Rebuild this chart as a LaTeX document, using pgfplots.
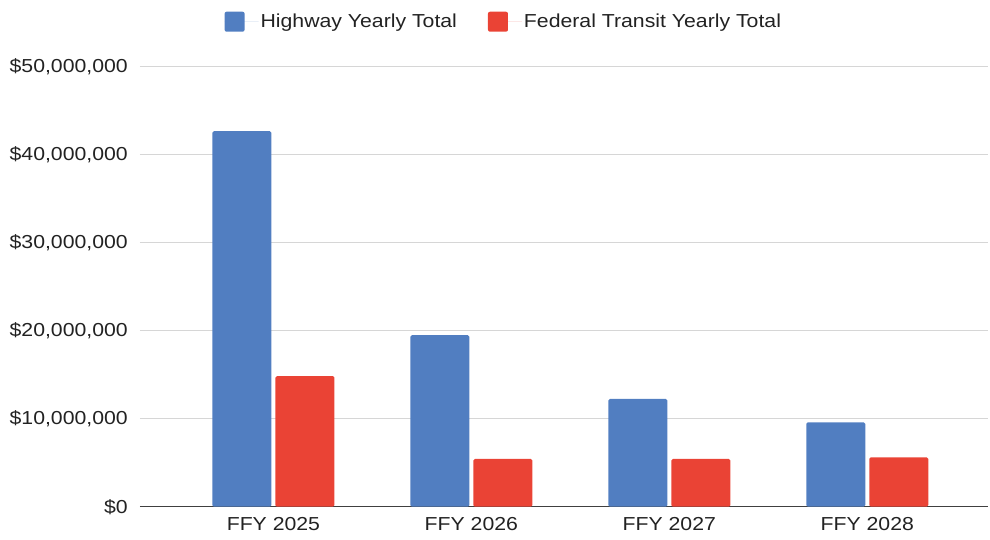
\documentclass[border=0pt]{standalone}
\usepackage{pgfplots}
\pgfplotsset{compat=1.18}
\usepackage{fontspec}
\setmainfont{Liberation Sans}[FakeStretch=1.13]
\definecolor{hwblue}{RGB}{81,126,193}
\definecolor{trred}{RGB}{234,67,53}
\definecolor{gridgray}{RGB}{214,214,214}
\definecolor{txt}{RGB}{34,34,34}
\begin{document}
\begin{tikzpicture}
\begin{axis}[
  scale only axis,
  width=848bp, height=439.7bp,
  ybar=4bp, bar width=59bp,
  xmin=-0.674, xmax=3.61,
  ymin=0, ymax=50000000,
  xtick=data,
  xticklabels={FFY 2025,FFY 2026,FFY 2027,FFY 2028},
  ytick={0,10000000,20000000,30000000,40000000,50000000},
  yticklabels={\$0,{\$10,000,000},{\$20,000,000},{\$30,000,000},{\$40,000,000},{\$50,000,000}},
  /pgf/number format/assume math mode=true,
  scaled y ticks=false,
  major tick length=0pt,
  ymajorgrids, grid style={draw=gridgray, line width=1bp},
  axis x line*=bottom, axis y line*=left,
  x axis line style={draw=black!75, line width=1.2bp, -},
  y axis line style={draw=none},
  ticklabel style={font=\fontsize{18.8bp}{22bp}\selectfont, text=txt},
  yticklabel style={inner sep=0pt, xshift=-12bp},
  xticklabel style={inner sep=0pt, yshift=-10bp},
  legend style={draw=none, fill=none, font=\fontsize{18.8bp}{22bp}\selectfont, text=txt,
    at={(0.429,1.103)}, anchor=center, legend columns=2,
    /tikz/every even column/.append style={column sep=29bp}},
  legend image code/.code={\fill[#1, draw=none, rounded corners=2bp] (0bp,-10bp) rectangle (20bp,10bp);
    \path (0bp,0bp) -- (34bp,0bp);},
  legend cell align=left,
  enlarge x limits=false,
]
\coordinate (O) at (rel axis cs:0,0);
\addplot[fill=hwblue, draw=none, rounded corners=1.5bp] coordinates {(0,42700000) (1,19500000) (2,12250000) (3,9600000)};
\addplot[fill=trred, draw=none, rounded corners=1.5bp] coordinates {(0,14850000) (1,5430000) (2,5430000) (3,5620000)};
\legend{Highway Yearly Total, Federal Transit Yearly Total}
\end{axis}
\pgfresetboundingbox
\path (O) ++(-140bp,-33.3bp) rectangle ++(990bp,540bp);
\end{tikzpicture}
\end{document}
